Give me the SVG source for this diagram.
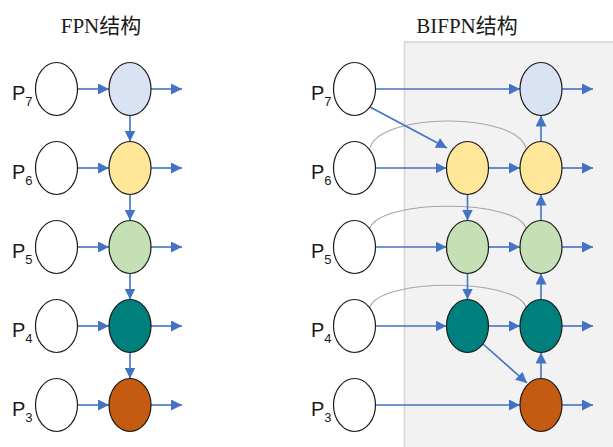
<svg xmlns="http://www.w3.org/2000/svg" width="613" height="447" viewBox="0 0 613 447">
  <style>
    .title { font-family: "Liberation Serif", "Noto Sans CJK SC", serif; font-size: 21px; fill: #1a1a1a; }
    .lbl { font-family: "Liberation Sans", "Noto Sans", sans-serif; font-size: 20px; fill: #1a1a1a; }
    .sub { font-size: 13px; }
    .node { stroke: #1a1a1a; stroke-width: 1.2; }
    .in { fill: #ffffff; }
    .l7 { fill: #dae3f3; }
    .l6 { fill: #ffe699; }
    .l5 { fill: #c5e0b4; }
    .l4 { fill: #00807c; }
    .l3 { fill: #c55a11; }
    .edge { fill: none; stroke: #4472c4; stroke-width: 1.6; marker-end: url(#arrow); }
    .skip { fill: none; stroke: #a6a6a6; stroke-width: 1.1; }
  </style>
  <defs>
    <marker id="arrow" markerUnits="userSpaceOnUse" markerWidth="11" markerHeight="11" refX="11" refY="5.5" orient="auto">
      <path d="M0,0 L11,5.5 L0,11 Z" fill="#4472c4"/>
    </marker>
  </defs>

  <rect width="613" height="447" fill="#ffffff"/>
  <!-- BiFPN panel background -->
  <rect x="404.5" y="42" width="210" height="407" fill="#f2f2f2" stroke="#d6d6d6" stroke-width="1.6"/>

  <text class="title" x="101" y="33" text-anchor="middle">FPN结构</text>
  <text class="title" x="467" y="33" text-anchor="middle">BIFPN结构</text>

  <!-- level labels -->
  <g id="labels">
    <text class="lbl" x="12" y="100">P<tspan class="sub" dy="6">7</tspan></text>
    <text class="lbl" x="12" y="179">P<tspan class="sub" dy="6">6</tspan></text>
    <text class="lbl" x="12" y="258">P<tspan class="sub" dy="6">5</tspan></text>
    <text class="lbl" x="12" y="337">P<tspan class="sub" dy="6">4</tspan></text>
    <text class="lbl" x="12" y="416">P<tspan class="sub" dy="6">3</tspan></text>
    <text class="lbl" x="311" y="100">P<tspan class="sub" dy="6">7</tspan></text>
    <text class="lbl" x="311" y="179">P<tspan class="sub" dy="6">6</tspan></text>
    <text class="lbl" x="311" y="258">P<tspan class="sub" dy="6">5</tspan></text>
    <text class="lbl" x="311" y="337">P<tspan class="sub" dy="6">4</tspan></text>
    <text class="lbl" x="311" y="416">P<tspan class="sub" dy="6">3</tspan></text>
  </g>

  <g id="connectors">
    <!-- FPN: lateral, top-down and outputs -->
    <path class="edge" d="M77.5,89 H109"/>
    <path class="edge" d="M77.5,168 H109"/>
    <path class="edge" d="M77.5,247 H109"/>
    <path class="edge" d="M77.5,326 H109"/>
    <path class="edge" d="M77.5,405 H109"/>
    <path class="edge" d="M151,89 H182"/>
    <path class="edge" d="M151,168 H182"/>
    <path class="edge" d="M151,247 H182"/>
    <path class="edge" d="M151,326 H182"/>
    <path class="edge" d="M151,405 H182"/>
    <path class="edge" d="M130,115.5 V141.5"/>
    <path class="edge" d="M130,194.5 V220.5"/>
    <path class="edge" d="M130,273.5 V299.5"/>
    <path class="edge" d="M130,352.5 V378.5"/>

    <!-- BiFPN: skip connections -->
    <path class="skip" d="M370,148 C380,112 516,112 526,148"/>
    <path class="skip" d="M370,228 C380,199 516,199 526,228"/>
    <path class="skip" d="M370,307 C380,278 516,278 526,307"/>

    <!-- BiFPN: inputs -->
    <path class="edge" d="M375.5,89 H520"/>
    <path class="edge" d="M370,107 L447,148"/>
    <path class="edge" d="M375.5,168 H446.5"/>
    <path class="edge" d="M375.5,247 H446.5"/>
    <path class="edge" d="M375.5,326 H446.5"/>
    <path class="edge" d="M375.5,405 H520"/>

    <!-- BiFPN: top-down path -->
    <path class="edge" d="M467.5,194.5 V220.5"/>
    <path class="edge" d="M467.5,273.5 V299.5"/>
    <path class="edge" d="M483,344 L527,383"/>

    <!-- BiFPN: intermediate to output nodes -->
    <path class="edge" d="M488.5,168 H520"/>
    <path class="edge" d="M488.5,247 H520"/>
    <path class="edge" d="M488.5,326 H520"/>

    <!-- BiFPN: bottom-up path -->
    <path class="edge" d="M541,378.5 V352.5"/>
    <path class="edge" d="M541,299.5 V273.5"/>
    <path class="edge" d="M541,220.5 V194.5"/>
    <path class="edge" d="M541,141.5 V115.5"/>

    <!-- BiFPN: outputs -->
    <path class="edge" d="M562,89 H593"/>
    <path class="edge" d="M562,168 H593"/>
    <path class="edge" d="M562,247 H593"/>
    <path class="edge" d="M562,326 H593"/>
    <path class="edge" d="M562,405 H593"/>
  </g>

  <!-- FPN nodes -->
  <g id="fpn-in7"><ellipse class="node in" cx="56.5" cy="89" rx="21" ry="26.5"/></g>
  <g id="fpn-in6"><ellipse class="node in" cx="56.5" cy="168" rx="21" ry="26.5"/></g>
  <g id="fpn-in5"><ellipse class="node in" cx="56.5" cy="247" rx="21" ry="26.5"/></g>
  <g id="fpn-in4"><ellipse class="node in" cx="56.5" cy="326" rx="21" ry="26.5"/></g>
  <g id="fpn-in3"><ellipse class="node in" cx="56.5" cy="405" rx="21" ry="26.5"/></g>
  <g id="fpn-out7"><ellipse class="node l7" cx="130" cy="89" rx="21" ry="26.5"/></g>
  <g id="fpn-out6"><ellipse class="node l6" cx="130" cy="168" rx="21" ry="26.5"/></g>
  <g id="fpn-out5"><ellipse class="node l5" cx="130" cy="247" rx="21" ry="26.5"/></g>
  <g id="fpn-out4"><ellipse class="node l4" cx="130" cy="326" rx="21" ry="26.5"/></g>
  <g id="fpn-out3"><ellipse class="node l3" cx="130" cy="405" rx="21" ry="26.5"/></g>

  <!-- BiFPN nodes -->
  <g id="bifpn-in7"><ellipse class="node in" cx="354.5" cy="89" rx="21" ry="26.5"/></g>
  <g id="bifpn-in6"><ellipse class="node in" cx="354.5" cy="168" rx="21" ry="26.5"/></g>
  <g id="bifpn-in5"><ellipse class="node in" cx="354.5" cy="247" rx="21" ry="26.5"/></g>
  <g id="bifpn-in4"><ellipse class="node in" cx="354.5" cy="326" rx="21" ry="26.5"/></g>
  <g id="bifpn-in3"><ellipse class="node in" cx="354.5" cy="405" rx="21" ry="26.5"/></g>
  <g id="bifpn-mid6"><ellipse class="node l6" cx="467.5" cy="168" rx="21" ry="26.5"/></g>
  <g id="bifpn-mid5"><ellipse class="node l5" cx="467.5" cy="247" rx="21" ry="26.5"/></g>
  <g id="bifpn-mid4"><ellipse class="node l4" cx="467.5" cy="326" rx="21" ry="26.5"/></g>
  <g id="bifpn-out7"><ellipse class="node l7" cx="541" cy="89" rx="21" ry="26.5"/></g>
  <g id="bifpn-out6"><ellipse class="node l6" cx="541" cy="168" rx="21" ry="26.5"/></g>
  <g id="bifpn-out5"><ellipse class="node l5" cx="541" cy="247" rx="21" ry="26.5"/></g>
  <g id="bifpn-out4"><ellipse class="node l4" cx="541" cy="326" rx="21" ry="26.5"/></g>
  <g id="bifpn-out3"><ellipse class="node l3" cx="541" cy="405" rx="21" ry="26.5"/></g>
</svg>
